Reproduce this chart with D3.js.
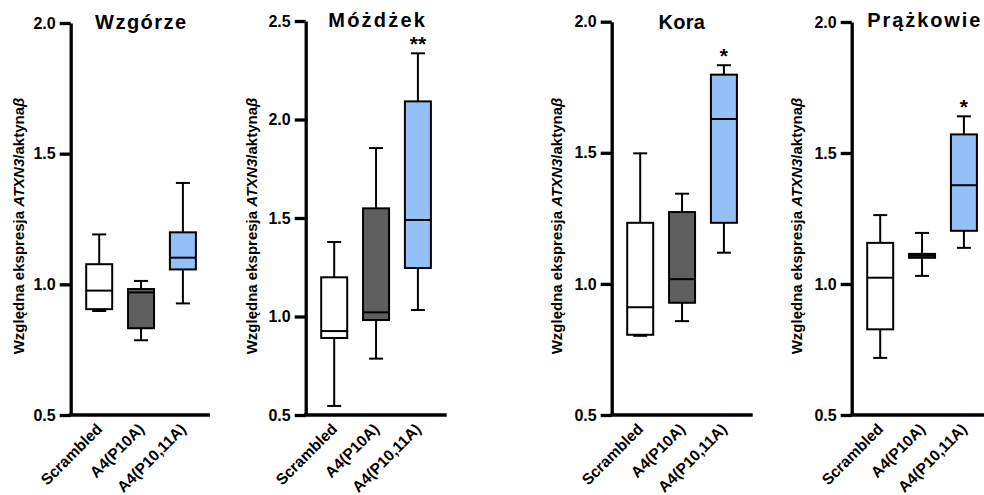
<!DOCTYPE html>
<html>
<head>
<meta charset="utf-8">
<script src="https://cdn.jsdelivr.net/npm/d3@7"></script>
<style>
  html, body { margin: 0; padding: 0; background: #fff; }
  svg { display: block; }
  svg text { font-family: "Liberation Sans", Arial, sans-serif; }
</style>
</head>
<body>
<svg id="chart" width="984" height="495"></svg>
<script>
// Groups shown on every panel
const categories = ["Scrambled", "A4(P10A)", "A4(P10,11A)"];

// Box statistics per group: [min, q1, median, q3, max]
const wzgorzeStats = [
  [0.898, 0.905, 0.976, 1.077, 1.191],
  [0.786, 0.832, 0.969, 0.982, 1.013],
  [0.927, 1.057, 1.102, 1.199, 1.388]
];
const mozdzekStats = [
  [0.546, 0.891, 0.926, 1.199, 1.378],
  [0.786, 0.982, 1.021, 1.549, 1.855],
  [1.033, 1.246, 1.490, 2.092, 2.336]
];
const koraStats = [
  [0.802, 0.806, 0.911, 1.233, 1.498],
  [0.858, 0.928, 1.018, 1.274, 1.344],
  [1.119, 1.233, 1.629, 1.798, 1.834]
];
const prazkowieStats = [
  [0.718, 0.827, 1.024, 1.157, 1.263],
  [1.031, 1.100, 1.108, 1.115, 1.195],
  [1.138, 1.203, 1.377, 1.571, 1.640]
];

// Significance marks above each group
const wzgorzeSig = ["", "", ""];
const mozdzekSig = ["", "", "**"];
const koraSig = ["", "", "*"];
const prazkowieSig = ["", "", "*"];

// Y tick values
const ticksTo2 = [0.5, 1.0, 1.5, 2.0];
const ticksTo25 = [0.5, 1.0, 1.5, 2.0, 2.5];

const fills = ["#ffffff", "#5f5f5f", "#93c0f7"];

const panels = [
  { title: "Wzgórze", stats: wzgorzeStats, sig: wzgorzeSig, ticks: ticksTo2,
    axisX: 70.7, top: 23, xEnd: 210, titleX: 95, titleY: 28.5, spacing: 1.5, ylabX: 24 },
  { title: "Móżdżek", stats: mozdzekStats, sig: mozdzekSig, ticks: ticksTo25,
    axisX: 305.7, top: 21, xEnd: 446.7, titleX: 328.3, titleY: 27, spacing: 2.2, ylabX: 257 },
  { title: "Kora", stats: koraStats, sig: koraSig, ticks: ticksTo2,
    axisX: 611.7, top: 21.7, xEnd: 752.7, titleX: 658.5, titleY: 28.5, spacing: 0.3, ylabX: 562 },
  { title: "Prążkowie", stats: prazkowieStats, sig: prazkowieSig, ticks: ticksTo2,
    axisX: 851.7, top: 22, xEnd: 995, titleX: 867.3, titleY: 27, spacing: 1.9, ylabX: 802 }
];

const svg = d3.select("#chart");
const bottom = 415;
const boxW = 26, capW = 14;
const fontStack = "'Liberation Sans', Arial, sans-serif";

panels.forEach(p => {
  const g = svg.append("g");
  const y = d3.scaleLinear()
    .domain([d3.min(p.ticks), d3.max(p.ticks)])
    .range([bottom, p.top]);
  const x = d3.scalePoint()
    .domain(categories)
    .range([p.axisX + 28.5, p.axisX + 112.2]);

  // Y axis
  const yAxis = g.append("g")
    .attr("transform", `translate(${p.axisX},0)`)
    .call(d3.axisLeft(y).tickValues(p.ticks).tickFormat(d3.format(".1f"))
      .tickSize(11).tickSizeOuter(0).tickPadding(4))
    .attr("font-family", fontStack);
  yAxis.select(".domain").attr("stroke", "#000").attr("stroke-width", 3.3);
  yAxis.selectAll(".tick line").attr("stroke", "#000").attr("stroke-width", 3.3);
  yAxis.selectAll(".tick text")
    .attr("fill", "#000")
    .style("font-size", "16px").style("font-weight", "bold");

  // X axis line
  g.append("line")
    .attr("x1", p.axisX - 1.65).attr("x2", p.xEnd)
    .attr("y1", bottom).attr("y2", bottom)
    .attr("stroke", "#000").attr("stroke-width", 3.3);

  // X category labels
  const xAxis = g.append("g")
    .attr("transform", `translate(0,${bottom})`)
    .call(d3.axisBottom(x).tickSize(0).tickPadding(0))
    .attr("font-family", fontStack);
  xAxis.select(".domain").remove();
  xAxis.selectAll(".tick text")
    .attr("fill", "#000")
    .attr("text-anchor", "end")
    .attr("dy", 0).attr("y", 0)
    .attr("transform", "translate(3.5,15) rotate(-45)")
    .style("font-size", "15.5px").style("font-weight", "bold");

  // Boxes and whiskers
  const grp = g.selectAll(".box").data(p.stats).enter().append("g")
    .attr("class", "box")
    .attr("transform", (d, i) => `translate(${x(categories[i])},0)`);

  // whisker lines
  grp.append("line")
    .attr("x1", 0).attr("x2", 0)
    .attr("y1", d => y(d[4])).attr("y2", d => y(d[3]))
    .attr("stroke", "#000").attr("stroke-width", 2);
  grp.append("line")
    .attr("x1", 0).attr("x2", 0)
    .attr("y1", d => y(d[1])).attr("y2", d => y(d[0]))
    .attr("stroke", "#000").attr("stroke-width", 2);
  // caps
  grp.append("line")
    .attr("x1", -capW / 2).attr("x2", capW / 2)
    .attr("y1", d => y(d[4])).attr("y2", d => y(d[4]))
    .attr("stroke", "#000").attr("stroke-width", 2);
  grp.append("line")
    .attr("x1", -capW / 2).attr("x2", capW / 2)
    .attr("y1", d => y(d[0])).attr("y2", d => y(d[0]))
    .attr("stroke", "#000").attr("stroke-width", 2);
  // box
  grp.append("rect")
    .attr("x", -boxW / 2).attr("width", boxW)
    .attr("y", d => y(d[3]))
    .attr("height", d => Math.max(0.01, y(d[1]) - y(d[3])))
    .attr("fill", (d, i) => fills[i])
    .attr("stroke", "#000").attr("stroke-width", 2);
  // median
  grp.append("line")
    .attr("x1", -boxW / 2).attr("x2", boxW / 2)
    .attr("y1", d => y(d[2])).attr("y2", d => y(d[2]))
    .attr("stroke", "#000").attr("stroke-width", 2);

  // significance marks
  grp.append("text")
    .attr("text-anchor", "middle")
    .attr("x", 0)
    .attr("y", d => y(d[4]) - 2)
    .style("font-size", "21px").style("font-weight", "bold")
    .text((d, i) => p.sig[i]);

  // Title
  g.append("text")
    .attr("x", p.titleX).attr("y", p.titleY)
    .style("font-size", "20px").style("font-weight", "bold")
    .style("letter-spacing", p.spacing + "px")
    .text(p.title);

  // Y axis title
  const yl = g.append("text")
    .attr("transform", `translate(${p.ylabX},226) rotate(-90)`)
    .attr("text-anchor", "middle")
    .style("font-size", "15px").style("font-weight", "bold");
  yl.append("tspan").text("Względna ekspresja ");
  yl.append("tspan").style("font-style", "italic").text("ATXN3");
  yl.append("tspan").text("/aktyna");
  yl.append("tspan").style("font-style", "italic").text("β");
});
</script>
</body>
</html>
